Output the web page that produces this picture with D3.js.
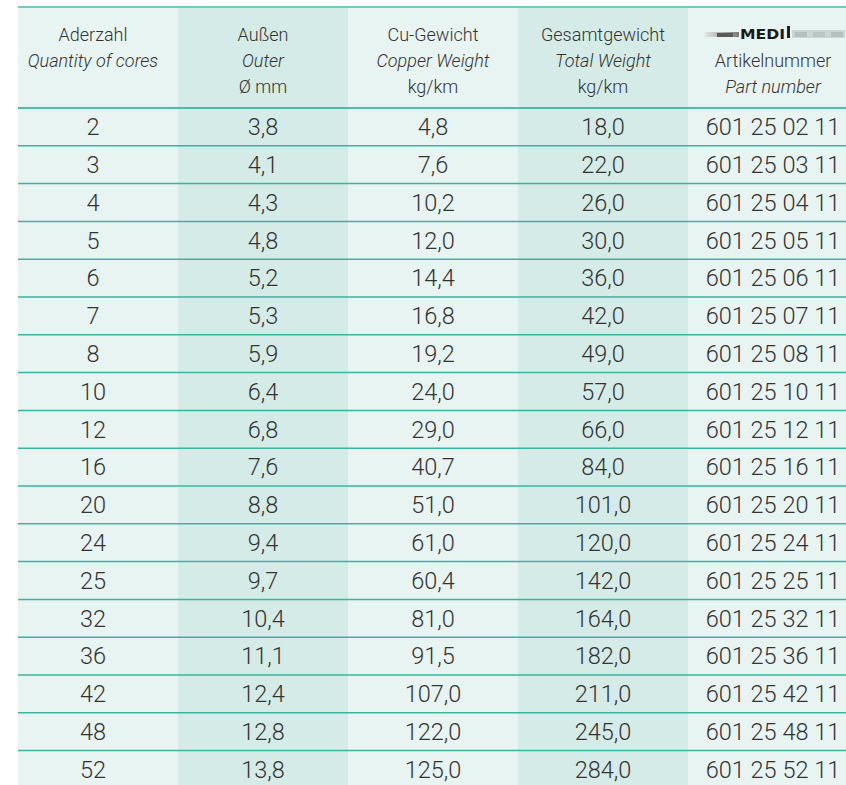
<!DOCTYPE html>
<html><head><meta charset="utf-8">
<script src="https://cdn.jsdelivr.net/npm/d3@7"></script>
<style>html,body{margin:0;padding:0;background:#fff;}svg{display:block;}</style>
</head><body>
<script>
const cores = [2,3,4,5,6,7,8,10,12,16,20,24,25,32,36,42,48,52];
const outerDiameter = [3.8,4.1,4.3,4.8,5.2,5.3,5.9,6.4,6.8,7.6,8.8,9.4,9.7,10.4,11.1,12.4,12.8,13.8];
const copperWeight = [4.8,7.6,10.2,12.0,14.4,16.8,19.2,24.0,29.0,40.7,51.0,61.0,60.4,81.0,91.5,107.0,122.0,125.0];
const totalWeight = [18,22,26,30,36,42,49,57,66,84,101,120,142,164,182,211,245,284];
const partNumbers = ["601 25 02 11","601 25 03 11","601 25 04 11","601 25 05 11","601 25 06 11","601 25 07 11","601 25 08 11","601 25 10 11","601 25 12 11","601 25 16 11","601 25 20 11","601 25 24 11","601 25 25 11","601 25 32 11","601 25 36 11","601 25 42 11","601 25 48 11","601 25 52 11"];
const columns = ["cores","outer","copper","total","part"];
const headerLine1 = ["Aderzahl","Außen","Cu-Gewicht","Gesamtgewicht",null];
const headerLine2 = ["Quantity of cores","Outer","Copper Weight","Total Weight","Artikelnummer"];
const headerLine2Italic = [true,true,true,true,false];
const headerLine3 = ["","Ø mm","kg/km","kg/km","Part number"];
const headerLine3Italic = [false,false,false,false,true];
const logoText = "MEDI";

const W = 846, H = 785;
const svg = d3.select("body").append("svg").attr("width", W).attr("height", H);

const x = d3.scaleBand().domain(columns).range([8, 858]);
const y = d3.scaleBand().domain(d3.range(cores.length)).range([108, 108 + 37.8 * cores.length]);

const light = "#e8f4f2", shade = "#d5ebe7", line = "#3bb3a2", ink = "#333";
const fmt = v => d3.format(".1f")(v).replace(".", ",");

// background
svg.append("rect").attr("x", 18).attr("y", 7).attr("width", W - 18).attr("height", H - 7).attr("fill", light);
svg.selectAll("rect.shade").data(["outer","total"]).join("rect")
  .attr("class","shade")
  .attr("x", d => x(d)).attr("y", 7).attr("width", x.bandwidth()).attr("height", H - 7).attr("fill", shade);

// lines
svg.append("line").attr("x1", 18).attr("x2", W).attr("y1", 7).attr("y2", 7).attr("stroke", "#72cbbd").attr("stroke-width", 2);
svg.selectAll("line.row").data(d3.range(1, cores.length + 1)).join("line")
  .attr("class","row")
  .attr("x1", 18).attr("x2", W)
  .attr("y1", d => y(d) !== undefined ? y(d) : y.range()[1])
  .attr("y2", d => y(d) !== undefined ? y(d) : y.range()[1])
  .attr("stroke", line).attr("stroke-width", 1.5);
svg.append("line").attr("x1", 18).attr("x2", W).attr("y1", 108).attr("y2", 108).attr("stroke", "#4dbdab").attr("stroke-width", 2.2);

function txt(g, cx, cy, s, size, italic) {
  g.append("text")
    .attr("x", cx).attr("y", cy)
    .attr("text-anchor", "middle")
    .attr("font-family", "Roboto, 'Liberation Sans', sans-serif")
    .attr("font-weight", 300)
    .attr("font-style", italic ? "italic" : "normal")
    .attr("font-size", size)
    .attr("fill", ink)
    .text(s);
}

const head = svg.append("g");
columns.forEach((c, i) => {
  const cx = x(c) + x.bandwidth() / 2;
  if (headerLine1[i]) txt(head, cx, 40.5, headerLine1[i], 18, false);
  txt(head, cx, 67, headerLine2[i], 18, headerLine2Italic[i]);
  if (headerLine3[i]) txt(head, cx, 93, headerLine3[i], 18, headerLine3Italic[i]);
});

// logo
const lx = x("part") + x.bandwidth() / 2;
const logo = svg.append("g");
const grad = svg.append("defs").append("linearGradient").attr("id", "lg");
grad.append("stop").attr("offset", "0%").attr("stop-color", "#dfe6e4");
grad.append("stop").attr("offset", "100%").attr("stop-color", "#7a7a7a");
logo.append("rect").attr("x", lx - 68).attr("y", 32).attr("width", 34).attr("height", 5).attr("fill", "url(#lg)");
logo.append("rect").attr("x", lx - 56).attr("y", 33).attr("width", 16).attr("height", 4).attr("fill", "#5a5a5a");
logo.append("text").attr("x", lx - 33).attr("y", 38.5)
  .attr("font-family", "'DejaVu Sans', sans-serif").attr("font-weight", "bold").attr("font-size", 14)
  .attr("fill", "#1a1a1a").attr("textLength", 45).attr("lengthAdjust", "spacingAndGlyphs").text(logoText);
logo.append("rect").attr("x", lx + 14).attr("y", 26).attr("width", 3).attr("height", 12).attr("fill", "#222");
logo.append("rect").attr("x", lx + 19).attr("y", 30).attr("width", 53).attr("height", 8).attr("fill", "#cad6d4");
logo.append("rect").attr("x", lx + 22).attr("y", 32).attr("width", 12).attr("height", 5).attr("fill", "#b3c0be");
logo.append("rect").attr("x", lx + 40).attr("y", 32).attr("width", 12).attr("height", 5).attr("fill", "#b8c5c3");
logo.append("rect").attr("x", lx + 58).attr("y", 32).attr("width", 12).attr("height", 5).attr("fill", "#b3c0be");

// body
const rowsData = cores.map((c, i) => [String(c), fmt(outerDiameter[i]), fmt(copperWeight[i]), fmt(totalWeight[i]), partNumbers[i]]);
const body = svg.append("g");
rowsData.forEach((r, i) => {
  const cy = y(i) + y.bandwidth() / 2 + 8.3;
  columns.forEach((c, j) => {
    txt(body, x(c) + x.bandwidth() / 2, cy, r[j], 23.5, false);
  });
});
</script>
</body></html>
